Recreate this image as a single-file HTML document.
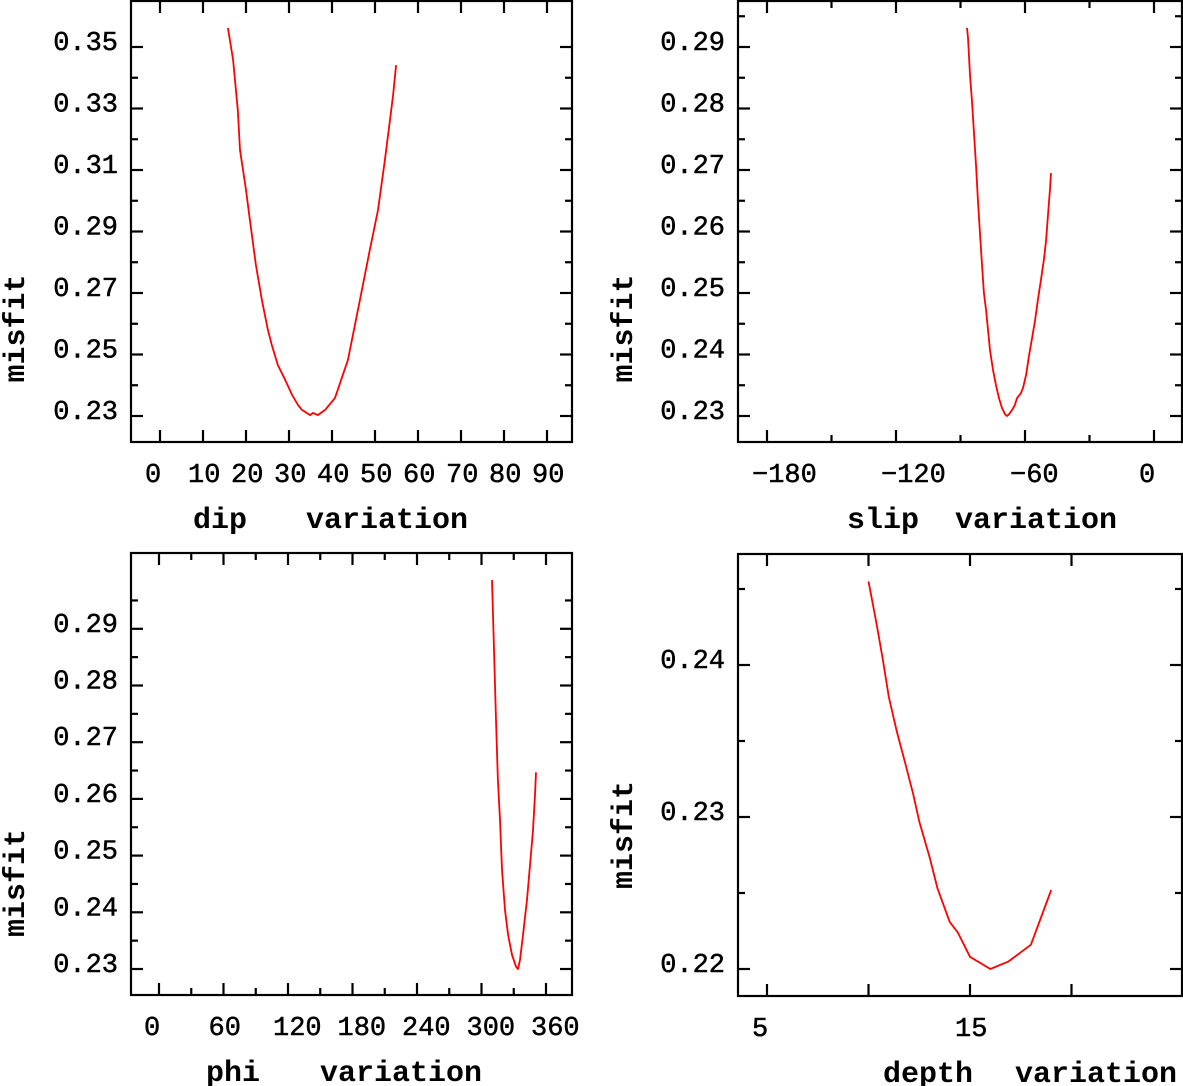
<!DOCTYPE html>
<html><head><meta charset="utf-8"><style>
html,body{margin:0;padding:0;background:#fff;}
svg{display:block;}
text{font-family:"Liberation Mono","DejaVu Sans Mono",monospace;fill:#000;}
.tl{font-size:27px;stroke:#000;stroke-width:0.5px;}
.tt{font-size:30px;font-weight:bold;}
</style></head><body>
<svg id="fig" width="1183" height="1086" viewBox="0 0 1183 1086" xmlns="http://www.w3.org/2000/svg"></svg>
<script>
// ---- data ----
const dipValues = [15.8,17.0,18.1,18.6,20.0,20.9,22.3,23.7,25.1,26.0,27.4,29.1,30.7,32.1,33.0,33.7,34.9,35.6,36.7,38.4,40.7,43.7,46.5,48.8,50.7,52.3,53.5,54.2,54.9];
const dipMisfit = [0.3562,0.3458,0.3295,0.3165,0.3035,0.2937,0.2791,0.2677,0.2580,0.2531,0.2466,0.2418,0.2369,0.2336,0.2320,0.2314,0.2303,0.2310,0.2303,0.2320,0.2359,0.2482,0.2677,0.2840,0.2970,0.3133,0.3263,0.3344,0.3441];
const slipValues = [-87.0,-86.5,-86.0,-85.6,-84.7,-83.7,-82.8,-81.9,-80.9,-80.0,-79.1,-78.1,-77.2,-76.3,-74.9,-73.5,-72.1,-70.7,-69.3,-68.4,-67.4,-66.0,-64.7,-63.7,-61.9,-60.9,-59.5,-58.1,-56.7,-55.3,-54.0,-52.6,-51.2,-50.2,-49.3,-48.4,-47.9];
const slipMisfit = [0.2931,0.2915,0.2882,0.2854,0.2814,0.2760,0.2708,0.2651,0.2594,0.2546,0.2500,0.2472,0.2440,0.2407,0.2375,0.2350,0.2329,0.2313,0.2303,0.2300,0.2303,0.2310,0.2318,0.2329,0.2337,0.2346,0.2367,0.2399,0.2427,0.2456,0.2489,0.2521,0.2554,0.2586,0.2627,0.2667,0.2695];
const phiValues = [309.8,311.6,313.5,315.3,317.2,319.1,321.9,324.7,328.4,332.1,334.0,335.8,338.6,342.3,345.1,347.9,349.8,350.7];
const phiMisfit = [0.2986,0.2863,0.2739,0.2633,0.2563,0.2475,0.2404,0.2360,0.2325,0.2304,0.2300,0.2316,0.2360,0.2422,0.2483,0.2545,0.2607,0.2647];
const depthValues = [10.0,10.4,10.7,11.0,11.4,11.8,12.2,12.5,13.0,13.4,14.0,14.4,15.0,16.0,16.9,18.0,19.0];
const depthMisfit = [0.2455,0.2427,0.2404,0.2379,0.2356,0.2336,0.2315,0.2297,0.2274,0.2253,0.2231,0.2224,0.2208,0.2200,0.2205,0.2216,0.2252];
// tick labels
const dipXTicks = [0,10,20,30,40,50,60,70,80,90];
const dipYTicks = [0.23,0.25,0.27,0.29,0.31,0.33,0.35];
const dipYMinor = [0.24,0.26,0.28,0.30,0.32,0.34];
const slipXTicks = [-180,-120,-60,0];
const slipXMinor = [-150,-90,-30];
const slipYTicks = [0.23,0.24,0.25,0.26,0.27,0.28,0.29];
const slipYMinor = [0.225,0.235,0.245,0.255,0.265,0.275,0.285,0.295];
const phiXTicks = [0,60,120,180,240,300,360];
const phiXMinor = [30,90,150,210,270,330];
const phiYTicks = [0.23,0.24,0.25,0.26,0.27,0.28,0.29];
const phiYMinor = [0.225,0.235,0.245,0.255,0.265,0.275,0.285,0.295];
const depthXTicks = [5,10,15,20];
const depthXLabels = [5,15];
const depthYTicks = [0.22,0.23,0.24];
const depthYMinor = [0.215,0.225,0.235,0.245];

const NS='http://www.w3.org/2000/svg';
const svg=document.getElementById('fig');
function mk(tag,attrs,parent){const e=document.createElementNS(NS,tag);for(const k in attrs)e.setAttribute(k,attrs[k]);(parent||svg).appendChild(e);return e;}

function panel(name,L,xs,ys,xMaj,xMin,xLab,yMaj,yMin,xTitleA,xTitleB){
  const g=mk('g',{});
  
  
  const X=v=>L.x0+(v-L.xv0)*L.xk;
  const Y=v=>L.y0-(v-L.yv0)*L.yk;
  const box=mk('rect',{x:L.l,y:L.t,width:L.r-L.l,height:L.b-L.t,fill:'none',stroke:'#000','stroke-width':2.2},g);
  
  
  const tk=(x1,y1,x2,y2,n)=>{const t=mk('line',{x1,y1,x2,y2,stroke:'#000','stroke-width':2.2},g);};
  const inX=x=>x>L.l+2&&x<L.r-2, inY=y=>y>L.t+2&&y<L.b-2;
  xMaj.forEach(v=>{const x=X(v);if(!inX(x))return;tk(x,L.b,x,L.b-12,'x-tick');tk(x,L.t,x,L.t+12,'x-tick-top');});
  xMin.forEach(v=>{const x=X(v);if(!inX(x))return;tk(x,L.b,x,L.b-7,'x-minor-tick');tk(x,L.t,x,L.t+7,'x-minor-tick-top');});
  yMaj.forEach(v=>{const y=Y(v);if(!inY(y))return;tk(L.l,y,L.l+12,y,'y-tick');tk(L.r,y,L.r-12,y,'y-tick-right');});
  yMin.forEach(v=>{const y=Y(v);if(!inY(y))return;tk(L.l,y,L.l+7,y,'y-minor-tick');tk(L.r,y,L.r-7,y,'y-minor-tick-right');});
  xLab.forEach(v=>{const t=mk('text',{x:X(v)-15,y:L.b+40,'class':'tl'},g);t.textContent=(v<0?'\u2212'+(-v):String(v));
    });
  yMaj.forEach(v=>{const t=mk('text',{x:L.l-13,y:Y(v)+3,'class':'tl','text-anchor':'end'},g);t.textContent=v.toFixed(2);
    });
  const d=xs.map((v,i)=>(i?'L':'M')+X(v).toFixed(1)+','+Y(ys[i]).toFixed(1)).join('');
  const p=mk('path',{d,fill:'none',stroke:'#ff0000','stroke-width':1.8,'stroke-linejoin':'round'},g);
  
  
  const ta=mk('text',{x:xTitleA,y:L.b+86,'class':'tt'},g);ta.textContent=name;
  
  const tb=mk('text',{x:xTitleB,y:L.b+86,'class':'tt'},g);tb.textContent='variation';
  
  const my=(L.t+L.b)/2+L.myOff, mx=L.mx;
  const yt=mk('text',{x:mx,y:my,'class':'tt','text-anchor':'middle',transform:'rotate(-90 '+mx+' '+my+')'},g);yt.textContent='misfit';
  
}

panel('dip',{l:131,r:572,t:1,b:442,x0:160,xv0:0,xk:4.3,y0:416,yv0:0.23,yk:3075,mx:24,myOff:107},
  dipValues,dipMisfit,dipXTicks,[],dipXTicks,dipYTicks,dipYMinor,193,306);
panel('slip',{l:738,r:1182,t:1,b:442,x0:1154,xv0:0,xk:2.15,y0:416,yv0:0.23,yk:6150,mx:632,myOff:107},
  slipValues,slipMisfit,slipXTicks,slipXMinor,slipXTicks,slipYTicks,slipYMinor,847,955);
panel('phi',{l:131,r:572,t:553,b:995,x0:159,xv0:0,xk:1.075,y0:969,yv0:0.23,yk:5670,mx:24,myOff:109},
  phiValues,phiMisfit,phiXTicks,phiXMinor,phiXTicks,phiYTicks,phiYMinor,206,320);
panel('depth',{l:738,r:1182,t:554,b:996,x0:767,xv0:5,xk:20.3,y0:969,yv0:0.22,yk:15200,mx:632,myOff:60},
  depthValues,depthMisfit,depthXTicks,[],depthXLabels,depthYTicks,depthYMinor,883,1015);
</script>
</body></html>
